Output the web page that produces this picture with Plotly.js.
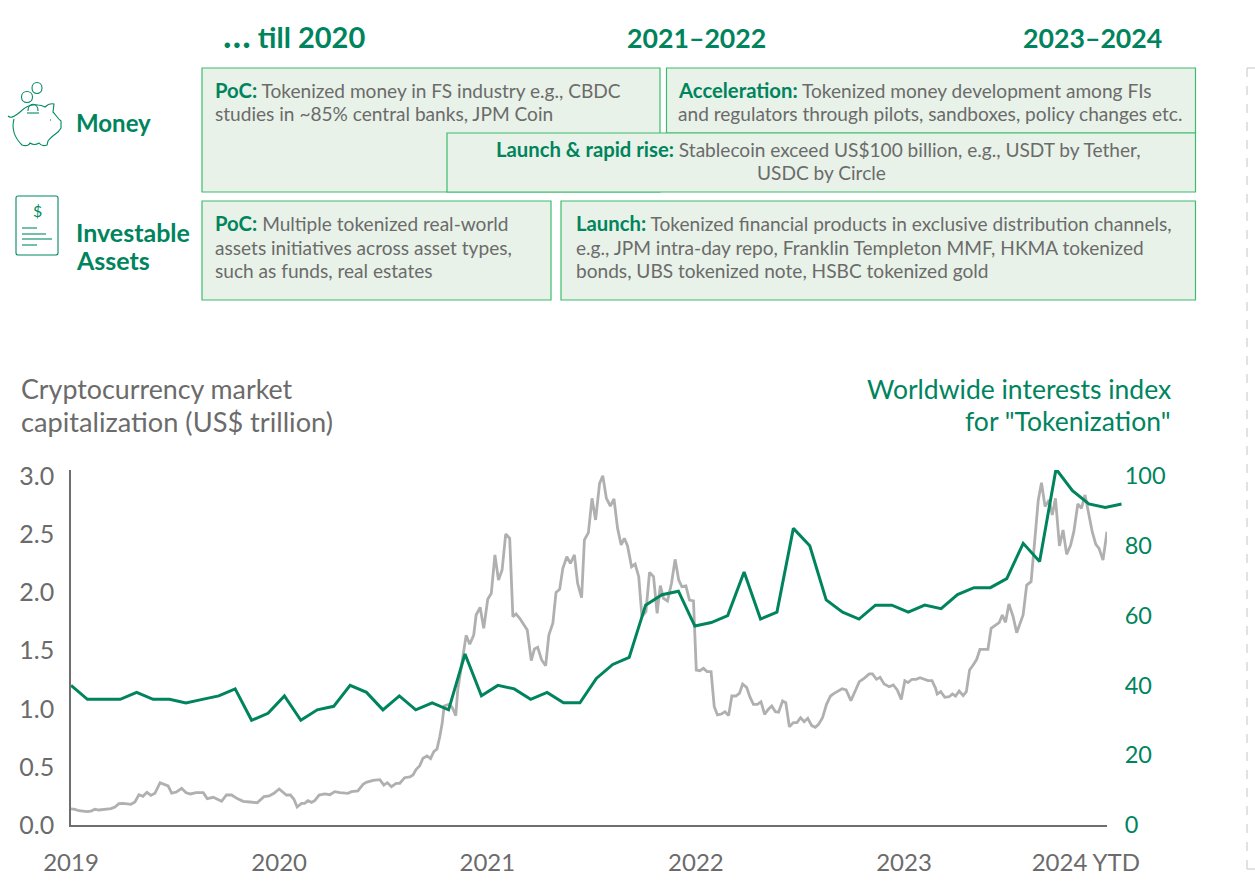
<!DOCTYPE html>
<html><head><meta charset="utf-8">
<script src="https://cdn.plot.ly/plotly-3.0.1.min.js"></script>
<style>html,body{margin:0;padding:0;background:#fff}#c{width:1255px;height:889px}</style>
</head><body><div id="c"></div>
<script>
// Cryptocurrency market capitalisation (x = weeks since start of 2019)
const capWeeks=[0,1,2,3,4,5,6,7,8,9,10,11,12,13,14,15,16,17,18,19,20,21,22.3,23.5,24.3,25.2,26.4,27.7,28.8,29.9,31.3,33.1,34.1,35.6,37.7,38.9,40.2,41.6,43.1,44.8,46.6,48.3,49.6,50.8,52.1,53.9,54.9,55.8,56.6,57.7,58.5,59.3,60.2,61,62.1,63.5,64.8,66,67.3,69.3,70.2,71.8,73.1,73.9,75.6,77.3,78.3,79.2,80.2,81.4,82.3,83.5,84.8,85.6,86.4,
87.25,88.1,89.1,90,90.8,91.6,92.3,92.9,93.4,94.6,95.4,96.3,96.8,97.7,98.3,98.9,99.8,100.8,101.4,102.4,103.3,104.3,105.2,106.1,107,107.9,108.8,109.8,110.6,111.4,112.3,113.3,114.2,115.2,116,116.8,117.8,118.8,119.6,120.6,121.4,122.3,123.1,124.1,125,126,126.8,127.8,128.5,129.5,130.4,131.3,132.3,133.1,134,135,135.9,136.8,137.7,138.5,139.3,140.3,141.2,142.1,142.9,143.9,144.8,145.8,146.7,147.5,148.3,149.3,150.3,151.2,152.1,152.9,153.9,154.8,155.8,156.5,157.4,158.3,159.2,160.2,161,161.8,162.8,163.7,164.6,165.4,166.4,167.3,168.1,169.1,169.9,170.8,171.8,172.7,173.6,174.5,175.4,176.3,177.1,178.1,178.9,179.8,180.8,181.7,182.6,183.5,184.4,185.4,186.3,187.1,188.1,189.1,190.1,
191,192,193,194,195.2,196.2,197.3,198.5,199.8,200.6,201.6,202.5,203.5,204.8,205.8,206.8,207.8,208.7,209.5,210.5,211.5,212.5,213.5,214.5,215.5,216.4,216.8,217.7,218.7,219.8,220.6,221.4,222.3,223.3,224.1,224.9,225.8,226.7,227.5,228.5,229.5,230.3,231.4,232.3,233.1,233.9,234.75,235.8,236.7,237.5,238.3,239.2,240.3,241.3,242.1,242.9,243.8,244.8,245.6,246.4,247.4,248.3,249.2,250.2,251,252,252.9,253.8,254.8,255.6,256.5,257.3,258.3,259.3];
const capTrillion=[.138,.135,.123,.118,.115,.12,.135,.129,.132,.135,.141,.155,.184,.186,.181,.178,.198,.261,.247,.281,.255,.273,.364,.344,.336,.275,.284,.316,.278,.267,.278,.278,.227,.238,.204,.258,.258,.227,.204,.198,.192,.244,.25,.273,.31,.258,.258,.221,.155,.186,.186,.209,.195,.209,.258,.267,.261,.287,.278,.273,.287,.293,.35,.367,.384,.39,.344,.364,.33,.359,.359,.407,.413,.43,.479,
.508,.574,.594,.571,.631,.654,.76,.875,1.024,1.038,1.013,.941,1.162,1.363,1.535,1.632,1.555,1.635,1.807,1.873,1.692,1.942,1.994,2.324,2.108,2.194,2.504,2.467,1.793,1.816,1.779,1.721,1.678,1.414,1.515,1.529,1.42,1.371,1.635,1.736,2.002,2.028,2.209,2.309,2.252,2.324,2.08,1.956,2.453,2.516,2.811,2.625,2.94,3.006,2.811,2.745,2.806,2.553,2.41,2.467,2.401,2.223,2.246,2.137,1.793,1.836,2.174,2.137,1.822,2.06,1.951,1.928,2.08,2.286,2.108,2.051,2.057,1.936,1.928,1.334,1.328,1.348,1.32,1.32,1.018,.947,.955,.975,.941,1.11,1.11,1.133,1.213,1.185,1.104,1.038,1.038,1.061,.952,.995,1.024,.975,.97,1.067,1.053,.846,.881,.881,.924,.889,.918,.855,.841,.866,.924,1.038,1.11,
1.133,1.156,1.173,1.162,1.07,1.147,1.234,1.262,1.3,1.3,1.254,1.271,1.213,1.19,1.205,1.162,1.081,1.242,1.225,1.254,1.254,1.268,1.254,1.242,1.242,1.176,1.127,1.147,1.099,1.104,1.127,1.11,1.153,1.113,1.147,1.334,1.377,1.426,1.512,1.512,1.512,1.692,1.715,1.741,1.807,1.744,1.902,1.793,1.655,1.736,1.807,2.065,2.094,2.481,2.797,2.946,2.74,2.797,2.668,2.811,2.401,2.539,2.329,2.41,2.524,2.763,2.725,2.84,2.653,2.524,2.415,2.381,2.281,2.524];
// Worldwide interest index, one value per month
const interestIndex=[40,36,36,36,38,36,36,35,36,37,39,30,32,37,30,33,34,40,38,33,37,33,35,33,49,37,40,39,36,38,35,35,42,46,48,63,66,67,57,58,60,72.5,59,61,85,80,64.5,61,59,63,63,61,63,62,66,68,68,70.6,80.7,75.5,102,95.8,92,91,92];
const yearLabels=['2019','2020','2021','2022','2023','2024 YTD'];
const yearWeeks=[0,52.1,104.2,156.4,208.5,254];
const capTicks=[0,.5,1,1.5,2,2.5,3];
const indexTicks=[0,20,40,60,80,100];
const months=interestIndex.map((_,i)=>i);

const W=1255,H=889;
const GREEN='#00845e',GREY='#6b6b6b',FILL='#e8f2e8',EDGE='#3dbb6f';
const FONT='Lato, sans-serif';
const px=x=>x/W, py=y=>1-y/H;
// Turn a path written in page pixels into paper fractions
const pathOf=s=>{let i=0;return s.replace(/-?\d+(\.\d+)?/g,n=>{const v=(i++%2===0)?px(+n):py(+n);return v.toFixed(5);});};
const box=(x0,y0,x1,y1)=>({type:'rect',xref:'paper',yref:'paper',x0:px(x0),x1:px(x1),y0:py(y1),y1:py(y0),fillcolor:FILL,line:{color:EDGE,width:1.2},layer:'below'});
const icon=(d,color,w,extra)=>Object.assign({type:'path',xref:'paper',yref:'paper',path:pathOf(d),line:{color:color,width:w}},extra||{});
const note=(text,x,y,size,color,anchor,extra)=>Object.assign({text,x:px(anchor==='right'?x:x-1),y:py(y-1),xref:'paper',yref:'paper',showarrow:false,xanchor:anchor||'left',yanchor:'middle',align:anchor||'left',font:{family:FONT,size,color},borderpad:0},extra||{});
const lead=t=>`<b><span style="color:${GREEN};font-size:20.3px">${t}</span></b>`;

const TS=19.1;
const HS=26.7, LS=25, TT=26.8;
const DASH={color:'#cfcfcf',width:1.2,dash:'dash'};
const shapes=[
 box(202,68,660,192),box(666.5,68,1195.5,133),box(447,133,1195.5,192),box(202,201,551,300),box(561,201,1195.5,300),
 icon('M 1247 68 L 1247 869','#cfcfcf',1.2,{line:DASH}),
 icon('M 1247 68 L 1255 68','#cfcfcf',1.2,{line:DASH}),
 icon('M 1247 869 L 1255 869','#cfcfcf',1.2,{line:DASH}),
 // piggy bank
 icon('M 8 116 C 11 119 15 116 20 112 C 25 107 31 104 38 105 C 40 105 43 106 45 107 C 47 105 51 103 54 104 L 53 112 C 56 115 58 119 61 121 L 61 128 L 58 132 C 54 135 51 137 48 141 L 47 145 C 44 146 41 146 39 143 C 36 145 33 145 30 143 C 29 146 25 146 22 145 C 16 139 11 130 14 119','#008a63',1.1),
 icon('M 27 113 L 39 113','#008a63',1.1),
 icon('M 28 111 C 28 102 38 102 38 111','#008a63',1.1),
 icon('M 50 120 L 51 120','#008a63',1.1),
 icon('M 42 88 C 42 80.7 32 80.7 32 88 C 32 95.3 42 95.3 42 88 Z','#008a63',1.1),
 icon('M 32.5 97 C 32.5 89.7 21.5 89.7 21.5 97 C 21.5 104.3 32.5 104.3 32.5 97 Z','#008a63',1.1),
 // document
 icon('M 18 196 L 56 196 C 57 196 58 197 58 198 L 58 253 C 58 254 57 255 56 255 L 18 255 C 17 255 16 254 16 253 L 16 198 C 16 197 17 196 18 196 Z','#008a63',1.1),
 icon('M 22 228 L 37 228','#008a63',1.1),
 icon('M 22 234 L 46 234','#008a63',1.1),
 icon('M 22 239 L 52 239','#008a63',1.1),
 icon('M 22 245 L 37 245','#008a63',1.1)
];

const annotations=[
 note('<b><span style="font-size:36px">…</span> till 2020</b>',223,35,29,GREEN),
 note('<b>2021–2022</b>',627,39,HS,GREEN),
 note('<b>2023–2024</b>',1023,39,HS,GREEN),
 note('<b>Money</b>',76,124,24,GREEN),
 note('<b>Investable</b>',76,233,LS,GREEN),
 note('<b>Assets</b>',76,261,LS,GREEN),
 note('$',38,211,16,'#008a63','center'),
 note(lead('PoC:')+' Tokenized money in FS industry e.g., CBDC',215,91,TS,GREY),
 note('studies in ~85% central banks, JPM Coin',215,115,TS,GREY),
 note(lead('Acceleration:')+' Tokenized money development among FIs',678,91,TS,GREY),
 note('and regulators through pilots, sandboxes, policy changes etc.',678,115,TS,GREY),
 note(lead('Launch &amp; rapid rise:')+' Stablecoin exceed US$100 billion, e.g., USDT by Tether,',820,150,TS,GREY,'center'),
 note('USDC by Circle',822,174,TS,GREY,'center'),
 note(lead('PoC:')+' Multiple tokenized real-world',215,224,TS,GREY),
 note('assets initiatives across asset types,',215,248,TS,GREY),
 note('such as funds, real estates',215,272,TS,GREY),
 note(lead('Launch:')+' Tokenized financial products in exclusive distribution channels,',576,224,TS,GREY),
 note('e.g., JPM intra-day repo, Franklin Templeton MMF, HKMA tokenized',576,248,TS,GREY),
 note('bonds, UBS tokenized note, HSBC tokenized gold',576,272,TS,GREY),
 note('Cryptocurrency market',21,390,TT,GREY),
 note('capitalization (US$ trillion)',21,422,27.2,GREY),
 note('Worldwide interests index',1172,390,26.5,GREEN,'right'),
 note('for "Tokenization"',1172,422,26.5,GREEN,'right')
];

const yDomain=[py(825),py(470)];
const traces=[
 {type:'scatter',mode:'lines',name:'Cryptocurrency market capitalization',x:capWeeks,y:capTrillion,xaxis:'x',yaxis:'y',line:{color:'#b0b0b0',width:2.8},hoverinfo:'x+y'},
 {type:'scatter',mode:'lines',name:'Worldwide interests index',x:months,y:interestIndex,xaxis:'x2',yaxis:'y2',line:{color:'#00845e',width:3},cliponaxis:false,hoverinfo:'x+y'}
];
const layout={
 width:W,height:H,margin:{l:0,r:0,t:0,b:0},paper_bgcolor:'#fff',plot_bgcolor:'rgba(0,0,0,0)',showlegend:false,
 font:{family:FONT,color:GREY},
 xaxis:{domain:[px(71),px(1107)],range:[0,259.3],tickmode:'array',tickvals:yearWeeks,ticktext:yearLabels,showgrid:false,zeroline:false,showline:true,linecolor:'#6e6e6e',linewidth:1.5,ticks:'',anchor:'y',tickfont:{family:FONT,size:24,color:GREY},ticklabelstandoff:15,tickangle:0},
 yaxis:{domain:yDomain,range:[0,3.055],tickmode:'array',tickvals:capTicks,ticktext:capTicks.map(v=>v.toFixed(1)),showgrid:false,zeroline:false,showline:true,linecolor:'#6e6e6e',linewidth:1.5,ticks:'',anchor:'x',tickfont:{family:FONT,size:25,color:GREY},ticklabelstandoff:10},
 xaxis2:{domain:[px(71),px(1121.7)],range:[0,64],visible:false,anchor:'y2'},
 yaxis2:{domain:yDomain,range:[0,101.72],side:'right',anchor:'x2',tickmode:'array',tickvals:indexTicks,showgrid:false,zeroline:false,showline:false,ticks:'',tickfont:{family:FONT,size:23.5,color:GREEN},ticklabelstandoff:2},
 shapes,annotations
};
Plotly.newPlot('c',traces,layout,{displayModeBar:false,responsive:false});
</script></body></html>
